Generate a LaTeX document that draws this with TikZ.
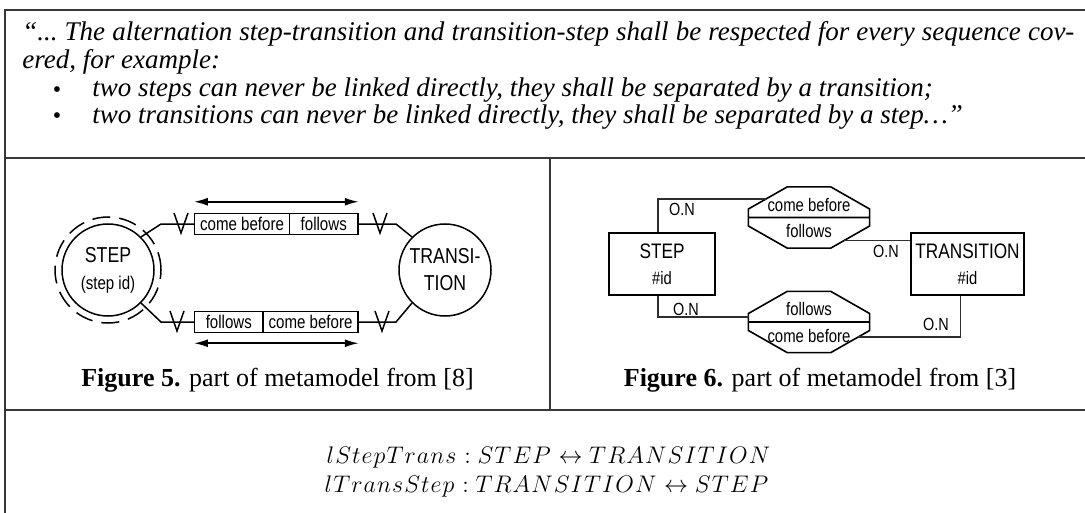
\documentclass[tikz,border=0pt]{standalone}
\usepackage{amsmath}
\usepackage{fontspec}
\setmainfont{Liberation Serif}
\newfontfamily\narrowsf[FakeStretch=0.82]{Liberation Sans}
\usetikzlibrary{arrows.meta,positioning,calc}
\definecolor{framegray}{RGB}{55,55,55}
\definecolor{linkgray}{RGB}{45,45,45}
% wide-set math italic for the link signatures
\makeatletter
\newcommand{\spacedword}[1]{\@tfor\spacedch:=#1\do{\spacedch\mkern0.8mu}}
\makeatother

\begin{document}
\begin{tikzpicture}[
    x=0.5pt, y=-0.5pt,
    % frame and running text
    frame/.style={draw=framegray, line width=1.3pt},
    quoteline/.style={font=\itshape\fontsize{13.5}{15}\selectfont\frenchspacing, inner sep=0pt, anchor=base west},
    bulletmark/.style={font=\fontsize{12}{14}\selectfont, inner sep=0pt},
    caption/.style={font=\fontsize{13}{15}\selectfont, inner sep=0pt},
    formula/.style={font=\fontsize{12}{14}\selectfont, inner sep=0pt, anchor=base},
    % left model: circles, role boxes, crow feet
    entity/.style={circle, draw, line width=0.75pt, minimum size=46pt, inner sep=0pt, align=center, font=\narrowsf\fontsize{10.8}{13.5}\selectfont},
    cell/.style={rectangle, draw, line width=0.75pt, minimum height=10.5pt, inner sep=0pt, font=\narrowsf\fontsize{9.2}{10}\selectfont},
    link/.style={line width=0.75pt},
    role/.style={{Latex[length=7pt,width=4pt]}-{Latex[length=7pt,width=4pt]}, line width=0.9pt},
    crowfoot/.pic={\draw[line width=0.75pt] (-7,-10) -- (0,10) -- (7,-10);},
    % right model: entity boxes, relationship octagons
    entbox/.style={rectangle, draw, line width=0.9pt, minimum height=31pt, inner sep=0pt, align=center, font=\narrowsf\fontsize{10.5}{13}\selectfont},
    relship/.pic={\draw[line width=0.8pt] (-21.8,-30.6) -- (21.8,-30.6) -- (60.6,-8.5) -- (60.6,8.5) -- (21.8,30.6) -- (-21.8,30.6) -- (-60.6,8.5) -- (-60.6,-8.5) -- cycle (-60.6,0) -- (60.6,0);},
    reltext/.style={font=\narrowsf\fontsize{9.1}{10}\selectfont, inner sep=0pt},
    card/.style={font=\narrowsf\fontsize{8.8}{10}\selectfont, inner sep=0pt},
    conn/.style={draw=linkgray, line width=0.6pt}
]
\useasboundingbox (0,0) rectangle (1085,513);

% Frame
\draw[frame] (1085,10) -- (5,10) -- (5,513);
\draw[frame] (5,158) -- (1085,158);
\draw[frame] (550,158) -- (550,410);
\draw[frame] (5,410) -- (1085,410);

% Quoted rule
\node[quoteline] (qA) at (22,41) {\makebox[526pt][s]{“... The alternation step-transition and transition-step shall be respected for every sequence cov-}};
\node[quoteline] (qB) at (22,69) {ered, for example:};
\node[bulletmark] (dotA) at (57,92) {•};
\node[quoteline] (qC) at (92,97) {two steps can never be linked directly, they shall be separated by a transition;};
\node[bulletmark] (dotB) at (57,118) {•};
\node[quoteline] (qD) at (92,124) {two transitions can never be linked directly, they shall be separated by a step…”};

% Left model
\node[entity] (step) at (108,270) {STEP\\{\fontsize{9.2}{10}\selectfont (step id)}};
\draw[link, dash pattern=on 9pt off 4.5pt] (step.center) circle [radius=26.5pt];
\node[entity] (trans) at (445,270) {TRANSI-\\TION};

\node[cell, minimum width=47.4pt] (cbTop) at (242,224) {come before};
\node[cell, minimum width=34.25pt] (foTop) at (323.75,224) {follows};
\node[cell, minimum width=34.15pt] (foBot) at (228.85,322) {follows};
\node[cell, minimum width=47.5pt] (cbBot) at (310.5,322) {come before};

\coordinate (kneeTL) at (161,224);
\coordinate (kneeTR) at (396,224);
\coordinate (kneeBL) at (161,322);
\coordinate (kneeBR) at (396,322);

\draw[link] (step.45) -- (kneeTL) -- (cbTop.west);
\draw[link] (foTop.east) -- (kneeTR) -- (trans.135);
\draw[link] (step.-45) -- (kneeBL) -- (foBot.west);
\draw[link] (cbBot.east) -- (kneeBR) -- (trans.-135);

\pic at (181,223) {crowfoot};
\pic at (380,223) {crowfoot};
\pic at (177,321) {crowfoot};
\pic at (382,321) {crowfoot};

\draw[role] ([yshift=5.5pt]cbTop.north west) -- ([yshift=5.5pt]foTop.north east);
\draw[role] ([yshift=-5pt]foBot.south west) -- ([yshift=-5pt]cbBot.south east);

\node[caption] (cap5) at (277.5,380) {\textbf{Figure 5.} part of metamodel from [8]};

% Right model
\node[entbox, minimum width=53pt] (stepBox) at (662,264) {STEP\\{\fontsize{9}{10}\selectfont\#id}};
\node[entbox, minimum width=56.5pt] (transBox) at (967.5,264) {TRANSITION\\{\fontsize{9}{10}\selectfont\#id}};

\pic at (809,217.5) {relship};
\pic at (809,322) {relship};
\node[reltext] (topCb) at (809,205) {come before};
\node[reltext] (topFo) at (809,231) {follows};
\node[reltext] (botFo) at (809,309) {follows};
\node[reltext] (botCb) at (809,335.5) {come before};

\coordinate (topIn) at (766,199);
\coordinate (topOut) at (844,240.5);
\coordinate (botIn) at (748.6,317);
\coordinate (botOut) at (858,337);

\draw[conn] ([xshift=-2pt]stepBox.north) |- (topIn);
\draw[conn] (topOut) -- (topOut -| transBox.west);
\draw[conn] ([xshift=-2pt]stepBox.south) |- (botIn);
\draw[conn] ([xshift=-3.5pt]transBox.south) |- (botOut);

\node[card] (cardA) at (682,209) {O.N};
\node[card] (cardB) at (886,251.5) {O.N};
\node[card] (cardC) at (686,309) {O.N};
\node[card] (cardD) at (936,324) {O.N};

\node[caption] (cap6) at (820,380) {\textbf{Figure 6.} part of metamodel from [3]};

% Link definitions
\node[formula] (defA) at (549,463) {$\spacedword{lStepTrans}: \spacedword{STEP}\leftrightarrow \spacedword{TRANSITION}$};
\node[formula] (defB) at (547,492) {$\spacedword{lTransStep}: \spacedword{TRANSITION}\leftrightarrow \spacedword{STEP}$};
\end{tikzpicture}
\end{document}
